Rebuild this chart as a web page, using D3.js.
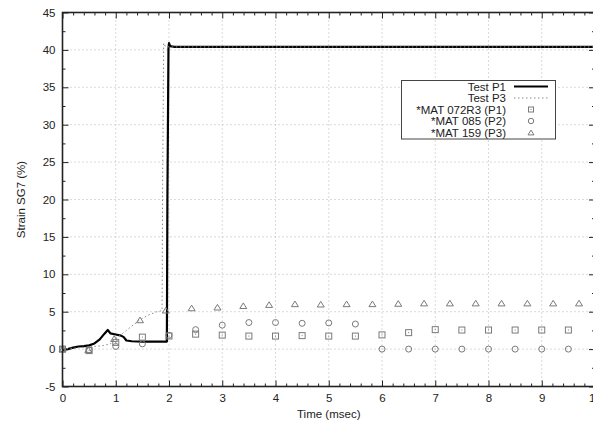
<!DOCTYPE html>
<html>
<head>
<meta charset="utf-8">
<script src="https://cdn.jsdelivr.net/npm/d3@7"></script>
<style>
  html, body { margin: 0; padding: 0; background: #fff; }
  svg { display: block; font-family: "Liberation Sans", Arial, sans-serif; }
</style>
</head>
<body>
<svg id="chart" width="593" height="423"></svg>
<script>
// Measured strain traces: [time (msec), strain (%)]
const testP1 = [
  [0, -0.1], [0.1, 0.0], [0.2, 0.2], [0.3, 0.35], [0.4, 0.4], [0.5, 0.5],
  [0.6, 0.75], [0.7, 1.3], [0.78, 2.0], [0.85, 2.55], [0.9, 2.1], [1.0, 1.95],
  [1.1, 1.8], [1.15, 1.6], [1.2, 1.15], [1.3, 1.05], [1.5, 1.0], [1.7, 1.0],
  [1.96, 1.0], [1.97, 20], [1.99, 40.2], [2.0, 40.9], [2.02, 40.5], [2.1, 40.4],
  [10, 40.4]
];
const testP3 = [
  [0, 0], [0.25, 0.15], [0.5, 0.3], [0.75, 0.45], [0.9, 0.7], [1.0, 1.4],
  [1.2, 2.5], [1.45, 3.9], [1.6, 4.5], [1.75, 4.95], [1.87, 5.15], [1.88, 22],
  [1.9, 40.9], [1.93, 40.5], [2.0, 40.4], [10, 40.4]
];

// Simulation results sampled every 0.5 msec
const matTimes = [0, 0.5, 1, 1.5, 2, 2.5, 3, 3.5, 4, 4.5, 5, 5.5, 6, 6.5, 7, 7.5, 8, 8.5, 9, 9.5];
const mat072R3 = [0, -0.2, 0.9, 1.6, 1.75, 2.0, 1.87, 1.74, 1.74, 1.8, 1.74, 1.74, 1.9, 2.2, 2.6, 2.55, 2.55, 2.55, 2.55, 2.55];
const mat085   = [0, -0.1, 0.35, 0.7, 1.85, 2.6, 3.2, 3.55, 3.55, 3.45, 3.5, 3.35, 0, 0, 0, 0, 0, 0, 0, 0];

// MAT 159 output has its own sampling interval
const mat159Times = [0, 0.485, 0.97, 1.455, 1.94, 2.425, 2.91, 3.395, 3.88, 4.365, 4.85,
                     5.335, 5.82, 6.305, 6.79, 7.275, 7.76, 8.245, 8.73, 9.215, 9.7];
const mat159 = [0, -0.1, 1.4, 3.9, 5.2, 5.5, 5.6, 5.8, 5.95, 6.05, 6.0,
                6.05, 6.05, 6.1, 6.15, 6.15, 6.15, 6.15, 6.15, 6.15, 6.15];

const xTicks = [0, 1, 2, 3, 4, 5, 6, 7, 8, 9, 10];
const yTicks = [-5, 0, 5, 10, 15, 20, 25, 30, 35, 40, 45];
const legendLabels = ["Test P1", "Test P3", "*MAT 072R3 (P1)", "*MAT 085 (P2)", "*MAT 159 (P3)"];

const svg = d3.select("#chart");
const plotL = 62.5, plotR = 595, plotT = 12.5, plotB = 386.5;
const fontSize = "11.5px";

const x = d3.scaleLinear().domain([0, 10]).range([plotL, plotR]);
const y = d3.scaleLinear().domain([-5, 45]).range([plotB, plotT]);

const xMinor = d3.range(0, 10.001, 0.2).filter(v => Math.abs(v - Math.round(v)) > 1e-6);
const yMinor = d3.range(-5, 45.001, 2.5).filter(v => Math.abs(v / 5 - Math.round(v / 5)) > 1e-6);

const gridCol = "#b4b4b4";
const markCol = "#7a7a7a";
const plain = d => String(d);

// grid
const grid = svg.append("g");
grid.selectAll("line.gx").data(xTicks.slice(1, -1)).join("line")
  .attr("x1", d => x(d)).attr("x2", d => x(d)).attr("y1", plotT).attr("y2", plotB)
  .attr("stroke", gridCol).attr("stroke-width", 1).attr("stroke-dasharray", "1,3");
grid.selectAll("line.gy").data(yTicks.slice(1, -1)).join("line")
  .attr("y1", d => y(d)).attr("y2", d => y(d)).attr("x1", plotL).attr("x2", plotR)
  .attr("stroke", gridCol).attr("stroke-width", 1).attr("stroke-dasharray", "1,3");

// axes with inward ticks on all four sides
function styleAxis(g) {
  g.select(".domain").remove();
  g.selectAll(".tick line").attr("stroke", "#222").attr("stroke-width", 1);
  g.selectAll("text").attr("fill", "#222").style("font-size", fontSize)
    .style("font-family", "'Liberation Sans', Arial, sans-serif");
}
svg.append("g").attr("transform", `translate(0,${plotB})`)
  .call(d3.axisBottom(x).tickValues(xTicks).tickSize(-6).tickPadding(7.5).tickFormat(plain))
  .call(styleAxis);
svg.append("g").attr("transform", `translate(0,${plotB})`)
  .call(d3.axisBottom(x).tickValues(xMinor).tickSize(-3).tickFormat(""))
  .call(styleAxis);
svg.append("g").attr("transform", `translate(0,${plotT})`)
  .call(d3.axisTop(x).tickValues(xTicks).tickSize(-6).tickFormat(""))
  .call(styleAxis);
svg.append("g").attr("transform", `translate(0,${plotT})`)
  .call(d3.axisTop(x).tickValues(xMinor).tickSize(-3).tickFormat(""))
  .call(styleAxis);
svg.append("g").attr("transform", `translate(${plotL},0)`)
  .call(d3.axisLeft(y).tickValues(yTicks).tickSize(-6).tickPadding(7).tickFormat(plain))
  .call(styleAxis);
svg.append("g").attr("transform", `translate(${plotL},0)`)
  .call(d3.axisLeft(y).tickValues(yMinor).tickSize(-3).tickFormat(""))
  .call(styleAxis);
svg.append("g").attr("transform", `translate(${plotR},0)`)
  .call(d3.axisRight(y).tickValues(yTicks).tickSize(-6).tickFormat(""))
  .call(styleAxis);
svg.append("g").attr("transform", `translate(${plotR},0)`)
  .call(d3.axisRight(y).tickValues(yMinor).tickSize(-3).tickFormat(""))
  .call(styleAxis);

// axis titles
svg.append("text").attr("x", (plotL + plotR) / 2).attr("y", 417.5)
  .attr("text-anchor", "middle").attr("fill", "#222").style("font-size", fontSize)
  .text("Time (msec)");
svg.append("text").attr("transform", `translate(24.5,${(plotT + plotB) / 2}) rotate(-90)`)
  .attr("text-anchor", "middle").attr("fill", "#222").style("font-size", fontSize)
  .text("Strain SG7 (%)");

// traces
const line = d3.line().x(d => x(d[0])).y(d => y(d[1]));
svg.append("path").datum(testP1).attr("d", line)
  .attr("fill", "none").attr("stroke", "#000").attr("stroke-width", 2.2)
  .attr("stroke-linejoin", "round");
svg.append("path").datum(testP3).attr("d", line)
  .attr("fill", "none").attr("stroke", "#888").attr("stroke-width", 1)
  .attr("stroke-dasharray", "1.5,2.5");

// point symbols
function square(g, cx, cy, s) {
  g.append("rect").attr("x", cx - s / 2).attr("y", cy - s / 2).attr("width", s).attr("height", s)
    .attr("fill", "none").attr("stroke", markCol).attr("stroke-width", 1);
  g.append("rect").attr("x", cx - 0.5).attr("y", cy - 0.5).attr("width", 1).attr("height", 1)
    .attr("fill", markCol);
}
function circle(g, cx, cy, r) {
  g.append("circle").attr("cx", cx).attr("cy", cy).attr("r", r)
    .attr("fill", "none").attr("stroke", markCol).attr("stroke-width", 1);
}
function triangle(g, cx, cy, s) {
  const h = s * 0.8;
  g.append("path")
    .attr("d", `M${cx - s / 2},${cy + h / 2}L${cx + s / 2},${cy + h / 2}L${cx},${cy - h / 2}Z`)
    .attr("fill", "none").attr("stroke", markCol).attr("stroke-width", 1);
}

const marks = svg.append("g");
matTimes.forEach((t, i) => square(marks, x(t), y(mat072R3[i]), 6));
matTimes.forEach((t, i) => circle(marks, x(t), y(mat085[i]), 3));
mat159Times.forEach((t, i) => triangle(marks, x(t), y(mat159[i]), 7));

// legend
const lg = svg.append("g");
lg.append("rect").attr("x", 401.5).attr("y", 80.5).attr("width", 154).attr("height", 58.5)
  .attr("fill", "#fff").attr("stroke", "#444").attr("stroke-width", 1);
const rowY = i => 86.5 + i * 11.5;
legendLabels.forEach((lab, i) => {
  lg.append("text").attr("x", 506).attr("y", rowY(i) + 4)
    .attr("text-anchor", "end").attr("fill", "#222").style("font-size", fontSize).text(lab);
});
lg.append("line").attr("x1", 514).attr("x2", 548).attr("y1", rowY(0)).attr("y2", rowY(0))
  .attr("stroke", "#000").attr("stroke-width", 2.2);
lg.append("line").attr("x1", 514).attr("x2", 548).attr("y1", rowY(1)).attr("y2", rowY(1))
  .attr("stroke", "#888").attr("stroke-width", 1).attr("stroke-dasharray", "1.5,2.5");
square(lg, 531, rowY(2), 5);
circle(lg, 531, rowY(3), 2.7);
triangle(lg, 531, rowY(4), 6);

// plot border
svg.append("rect").attr("x", plotL).attr("y", plotT).attr("width", plotR - plotL).attr("height", plotB - plotT)
  .attr("fill", "none").attr("stroke", "#222").attr("stroke-width", 1.6);
</script>
</body>
</html>
